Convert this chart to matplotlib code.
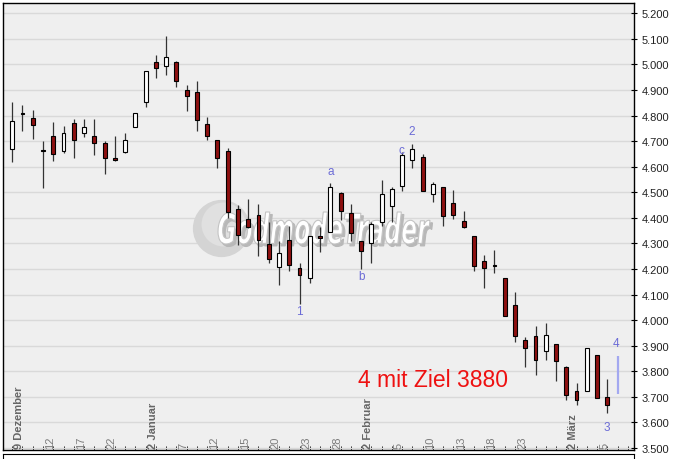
import numpy as np
import matplotlib
matplotlib.use('Agg')
from matplotlib import pyplot as plt
from matplotlib.textpath import TextPath
from matplotlib.patches import PathPatch
from matplotlib.font_manager import FontProperties
from matplotlib.transforms import Affine2D, IdentityTransform
from matplotlib.ticker import MultipleLocator, FuncFormatter

plt.rcParams['font.family'] = ['Liberation Sans', 'DejaVu Sans']

# daily candles, 8 Dez 2008 .. 5 Maerz 2009
opens  = [4670, 4809, 4790, 4665, 4720, 4663, 4770, 4731, 4720, 4693,
          4632, 4659, 4754, 4854, 5008, 4993, 5010, 4900, 4891, 4766,
          4703, 4660, 4435, 4395, 4410, 4296, 4207, 4312, 4203, 4164,
          4326, 4346, 4497, 4418, 4308, 4300, 4385, 4445, 4523, 4627,
          4637, 4493, 4520, 4458, 4386, 4328, 4230, 4215, 4165, 4059,
          3922, 3937, 3880, 3905, 3818, 3722, 3724, 3863, 3698]
highs  = [4853, 4841, 4822, 4699, 4774, 4759, 4787, 4787, 4787, 4702,
          4720, 4732, 4809, 4973, 5037, 5110, 5013, 4918, 4935, 4793,
          4703, 4672, 4450, 4474, 4453, 4383, 4311, 4367, 4222, 4328,
          4363, 4535, 4500, 4453, 4308, 4385, 4548, 4520, 4656, 4689,
          4650, 4541, 4520, 4509, 4425, 4328, 4255, 4274, 4165, 4111,
          3933, 3976, 3989, 3905, 3822, 3754, 3889, 3863, 3770]
lows   = [4620, 4741, 4708, 4517, 4623, 4654, 4635, 4715, 4647, 4573,
          4621, 4652, 4754, 4835, 4948, 4959, 4913, 4819, 4741, 4706,
          4596, 4400, 4295, 4359, 4250, 4222, 4139, 4193, 4063, 4144,
          4265, 4346, 4393, 4311, 4200, 4222, 4369, 4385, 4506, 4595,
          4503, 4463, 4369, 4395, 4359, 4193, 4124, 4184, 4015, 3913,
          3816, 3787, 3845, 3763, 3689, 3668, 3724, 3694, 3637]
closes = [4778, 4805, 4764, 4661, 4651, 4730, 4706, 4755, 4694, 4635,
          4628, 4703, 4809, 4973, 4985, 5028, 4936, 4878, 4784, 4719,
          4635, 4422, 4334, 4365, 4315, 4238, 4261, 4217, 4178, 4328,
          4322, 4519, 4426, 4340, 4269, 4375, 4493, 4513, 4646, 4669,
          4503, 4531, 4406, 4412, 4365, 4213, 4203, 4211, 4015, 3937,
          3892, 3845, 3941, 3841, 3708, 3689, 3889, 3694, 3668]

day_labels = ['9 Dezember', '12', '17', '22', '2 Januar', '7', '12', '15', '20', '23',
              '28', '2 Februar', '5', '10', '13', '18', '23', '2 März', '5']
day_index  = [1, 4, 7, 10, 14, 17, 20, 23, 26, 29,
              32, 35, 38, 41, 44, 47, 50, 55, 58]
month_labels = ['9 Dezember', '2 Januar', '2 Februar', '2 März']

wave_labels = ['1', 'a', 'b', 'c', '2', '3', '4']
wave_x = [27.97, 31.0, 34.05, 37.9, 38.93, 57.93, 58.84]
wave_y = [4036, 4582, 4174, 4665, 4740, 3583, 3909]

target_day = 59
target_range = [3711, 3858]

opens = np.array(opens); closes = np.array(closes)
x = np.arange(len(opens))

fig = plt.figure(figsize=(6.78, 4.60), dpi=100)
ax = fig.add_axes([3/678, 9/460, 631/678, 447/460])
ax.set_facecolor('#efefef')

# watermark
ax.scatter([0.346], [0.497], s=1700, color='#d4d4d4', transform=ax.transAxes, zorder=1, linewidths=0)
ax.scatter([0.348], [0.505], s=1000, color='#e0e0e0', transform=ax.transAxes, zorder=1, linewidths=0)
tp = TextPath((0, 0), 'GodmodeTrader', size=1,
              prop=FontProperties(family='DejaVu Sans', weight='bold', style='italic'))
bb = tp.get_extents()
for dx, dy, fc, ec in [(2.5, -2.5, '#b8b8b8', '#b8b8b8'), (0, 0, 'white', '#c4c4c4')]:
    tr = Affine2D().translate(-bb.x0, -bb.y0).scale(212/bb.width, 32/bb.height).translate(218 + dx, 215 + dy)
    ax.add_patch(PathPatch(tr.transform_path(tp), transform=IdentityTransform(),
                           facecolor=fc, edgecolor=ec, lw=0.8, zorder=1.5))

# candles
up = closes >= opens
ax.vlines(x, lows, highs, color='#333333', lw=0.9, zorder=3)
ax.bar(x, np.maximum(np.abs(closes - opens), 6), bottom=np.minimum(opens, closes), width=0.38,
       color=np.where(up, 'white', '#8e1010'), edgecolor='black', linewidth=0.8, zorder=4)

ax.vlines(target_day, target_range[0], target_range[1], color='#a3a8f0', lw=1.6, zorder=4)
for lab, wx, wy in zip(wave_labels, wave_x, wave_y):
    ax.text(wx, wy, lab, color='#6b6bd6', fontsize=8.5, ha='center', va='center', zorder=5)

ax.text(41.0, 3766, '4 mit Ziel 3880', color='#ee1111', fontsize=16.5, ha='center', va='center', zorder=5)

for pos, lab in zip(day_index, day_labels):
    bold = lab in month_labels
    ax.text(pos - 0.3, 0.004, lab, transform=ax.get_xaxis_transform(), rotation=90,
            ha='center', va='bottom', fontsize=8,
            fontweight='bold' if bold else 'normal',
            color='#666666' if bold else '#7c7c7c', zorder=2)

ax.set_xlim(-0.9, 60.6)
ax.set_ylim(3492, 5240)
ax.yaxis.tick_right()
ax.yaxis.set_major_locator(MultipleLocator(100))
ax.yaxis.set_major_formatter(FuncFormatter(lambda v, p: f'{v:,.0f}'.replace(',', '.')))
ax.tick_params(axis='y', direction='inout', length=5, width=0.8, labelsize=8, pad=3, labelcolor='#222222')
ax.set_xticks(np.arange(0, 61))
ax.set_xticklabels([])
ax.tick_params(axis='x', direction='in', length=3, width=0.6)
ax.grid(axis='y', color='#d9d9d9', lw=1)
ax.set_axisbelow(True)
for s in ax.spines.values():
    s.set_color('black')
    s.set_linewidth(1)

# start of the lower panel
ax2 = fig.add_axes([3/678, -0.05, 631/678, 0.05 + 5/460])
ax2.set_xticks([]); ax2.set_yticks([])
ax2.set_facecolor('white')

fig.savefig('out.png', dpi=100, facecolor='white')
